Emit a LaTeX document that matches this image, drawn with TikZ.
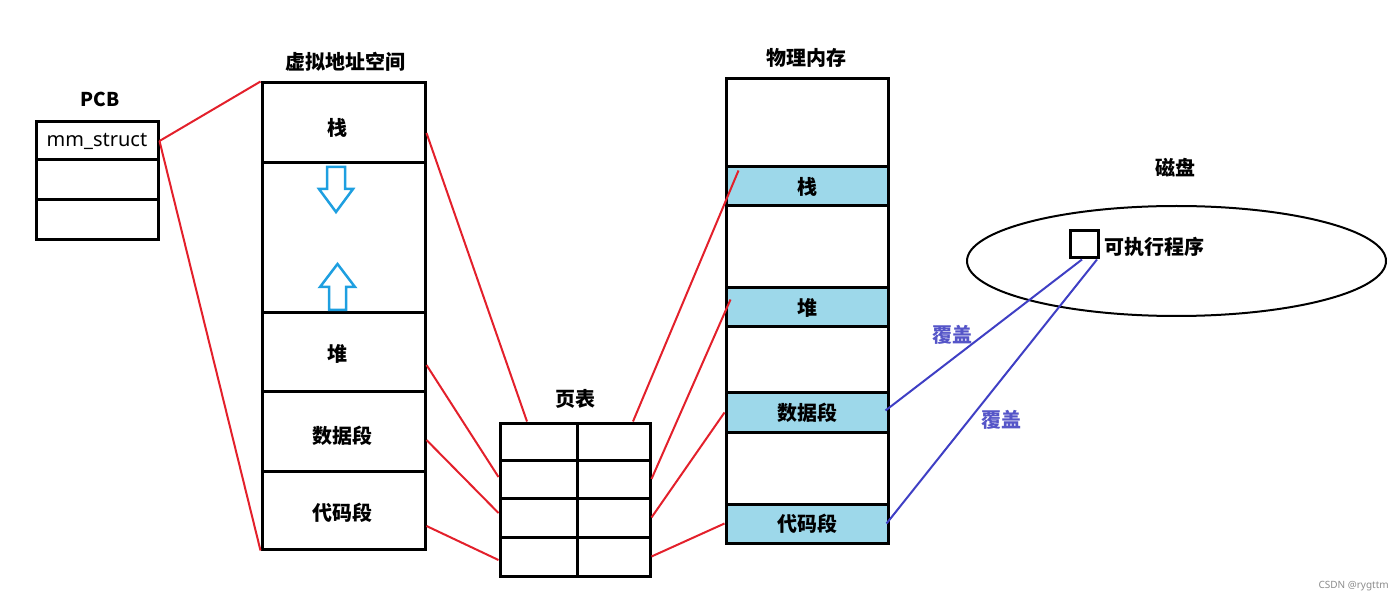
\documentclass[tikz,border=0pt]{standalone}
\usepackage{fontspec}
\setmainfont{Noto Sans CJK SC}
\newfontfamily\latinsans{Noto Sans}
\usetikzlibrary{shapes.geometric,calc}
\definecolor{redl}{HTML}{E3202B}
\definecolor{bluel}{HTML}{3F3FC4}
\definecolor{bluetxt}{HTML}{5555C8}
\definecolor{cellfill}{HTML}{9DD8EA}
\definecolor{arrowc}{HTML}{1E9FE0}
\tikzset{
  cell/.style={draw=black, line width=3pt, rectangle, inner sep=0pt, font=\fontsize{20}{22}\selectfont\bfseries},
  memfill/.style={cell, fill=cellfill},
  ttl/.style={inner sep=0pt, font=\fontsize{20}{22}\selectfont\bfseries},
  redline/.style={draw=redl, line width=2pt},
  blueline/.style={draw=bluel, line width=2pt},
  covlbl/.style={inner sep=0pt, text=bluetxt, font=\fontsize{20}{22}\selectfont\bfseries},
  hollow/.style={draw=arrowc, line width=2.5pt, line join=miter},
}
\begin{document}
\begin{tikzpicture}[x=1pt,y=-1pt]
\useasboundingbox (0,0) rectangle (1400,601);

% PCB
\node[inner sep=0pt, font=\fontsize{19}{20}\selectfont\bfseries] (pcbt) at (100,99) {PCB};
\node[cell, minimum width=122pt, minimum height=38pt, font=\latinsans\fontsize{20}{22}\selectfont] (pcb1) at (97,141) {mm\_struct};
\node[cell, minimum width=122pt, minimum height=40pt] (pcb2) at (97,180) {};
\node[cell, minimum width=122pt, minimum height=40pt] (pcb3) at (97,220) {};

% virtual address space
\node[ttl] (vat) at (345,62) {虚拟地址空间};
\node[cell, minimum width=163pt, minimum height=80pt] (va1) at (343.5,123) {};
\node[ttl] (va1l) at (337,128) {栈};
\node[cell, minimum width=163pt, minimum height=150pt] (vag) at (343.5,238) {};
\node[cell, minimum width=163pt, minimum height=79pt] (va2) at (343.5,352.5) {};
\node[ttl] (va2l) at (337,354) {堆};
\node[cell, minimum width=163pt, minimum height=79pt] (va3) at (343.5,431.5) {};
\node[ttl] (va3l) at (342,436) {数据段};
\node[cell, minimum width=163pt, minimum height=78pt] (va4) at (343.5,510) {};
\node[ttl] (va4l) at (342,513) {代码段};

% growth arrows
\draw[hollow] (327,167) -- (345,167) -- (345,189) -- (353,189) -- (336,212) -- (319,189) -- (327,189) -- cycle;
\draw[hollow] (329,310) -- (346,310) -- (346,287) -- (355,287) -- (337.5,264) -- (320,287) -- (329,287) -- cycle;

% page table
\node[ttl] (ptt) at (575,399) {页表};
\foreach \r/\y/\h in {1/441.5/37, 2/479/38, 3/517.5/39, 4/556.5/39} {
  \node[cell, minimum width=77pt, minimum height=\h pt] (pt\r1) at (538.5,\y) {};
  \node[cell, minimum width=73pt, minimum height=\h pt] (pt\r2) at (613.5,\y) {};
}

% physical memory
\node[ttl] (pmt) at (806,58) {物理内存};
\node[cell, minimum width=162pt, minimum height=88pt] (pm0) at (807,123) {};
\node[memfill, minimum width=162pt, minimum height=39pt] (pm1) at (807,186.5) {栈};
\node[cell, minimum width=162pt, minimum height=82pt] (pm2) at (807,247) {};
\node[memfill, minimum width=162pt, minimum height=39pt] (pm3) at (807,307.5) {堆};
\node[cell, minimum width=162pt, minimum height=66pt] (pm4) at (807,360) {};
\node[memfill, minimum width=162pt, minimum height=39pt] (pm5) at (807,412.5) {数据段};
\node[cell, minimum width=162pt, minimum height=72pt] (pm6) at (807,468) {};
\node[memfill, minimum width=162pt, minimum height=39pt] (pm7) at (807,523.5) {代码段};

% disk
\node[ttl] (diskt) at (1175,168) {磁盘};
\node[draw=black, line width=2pt, ellipse, inner sep=0pt, minimum width=419pt, minimum height=110pt] (disk) at (1176.5,261) {};
\node[draw=black, line width=3pt, inner sep=0pt, minimum width=28pt, minimum height=27pt] (exe) at (1084.5,244.5) {};
\node[ttl, anchor=west] (exel) at (1104,247) {可执行程序};

% red connectors
\draw[redline] (pcb1.east) -- (va1.north west);
\draw[redline] (pcb1.east) -- (va4.south west);
\draw[redline] ([yshift=-10pt]va1.east) -- ([xshift=-11.5pt]pt11.north);
\draw[redline] ([yshift=-12.5pt]va2.east) -- ([yshift=2pt]pt21.west);
\draw[redline] ([yshift=-8.5pt]va3.east) -- ([yshift=4.5pt]pt31.west);
\draw[redline] ([yshift=-16pt]va4.east) -- ([yshift=-3.5pt]pt41.west);
\draw[redline] ([xshift=19.5pt]pt12.north) -- ([xshift=14pt,yshift=-5pt]pm1.north west);
\draw[redline] (pt22.east) -- ([xshift=6pt,yshift=-13pt]pm3.north west);
\draw[redline] (pt32.east) -- (pm5.west);
\draw[redline] (pt42.east) -- (pm7.west);

% blue connectors
\draw[blueline] ([xshift=-4pt,yshift=2pt]pm5.east) -- ([xshift=-2.5pt]exe.south);
\draw[blueline] ([xshift=-3pt]pm7.east) -- ([xshift=12.5pt]exe.south);
\node[covlbl] (cov1) at (952,335) {覆盖};
\node[covlbl] (cov2) at (1001,420) {覆盖};

% watermark
\node[inner sep=0pt, anchor=east, text=black!45, font=\latinsans\fontsize{10}{12}\selectfont] (wm) at (1389,586) {CSDN @rygttm};
\end{tikzpicture}
\end{document}
